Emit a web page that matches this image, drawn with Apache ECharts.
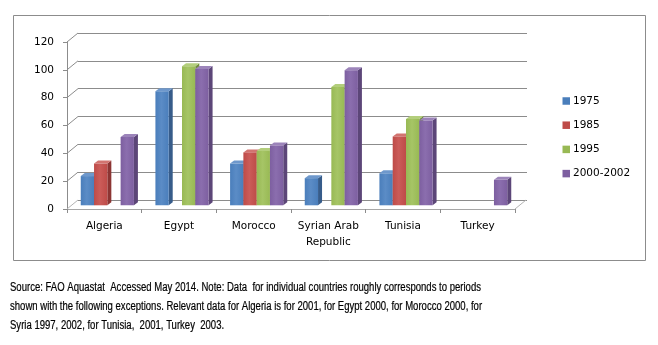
<!DOCTYPE html>
<html>
<head>
<meta charset="utf-8">
<script src="https://cdn.jsdelivr.net/npm/echarts@6/dist/echarts.min.js"></script>
<style>
  html, body { margin: 0; padding: 0; background: #fff; }
  #chart { width: 658px; height: 345px; }
</style>
</head>
<body>
<div id="chart"></div>
<script>
// Water withdrawal index by country and period
const categories = ['Algeria', 'Egypt', 'Morocco', 'Syrian Arab\nRepublic', 'Tunisia', 'Turkey'];
const seriesNames = ['1975', '1985', '1995', '2000-2002'];
const v1975 = [21, 82, 30, 19.5, 23, null];
const v1985 = [30, null, 38, null, 49.5, null];
const v1995 = [null, 100, 39, 85, 62, null];
const v2000 = [49, 98, 43, 97, 61, 18.3];
const yTicks = [0, 20, 40, 60, 80, 100, 120];

const footnote = [
  'Source: FAO Aquastat  Accessed May 2014. Note: Data  for individual countries roughly corresponds to periods',
  'shown with the following exceptions. Relevant data for Algeria is for 2001, for Egypt 2000, for Morocco 2000, for',
  'Syria 1997, 2002, for Tunisia,  2001, Turkey  2003.'
];

// Face colours: front, side (shaded), top (lit)
const palette = [
  { front: '#4A7EBB', light: '#5B8CC6', side: '#375C8A', top: '#6E98CC' },
  { front: '#BE4B48', light: '#CB5C59', side: '#8C3533', top: '#D27470' },
  { front: '#98B954', light: '#A6C566', side: '#718B3E', top: '#B3CE7C' },
  { front: '#7D5FA0', light: '#8B6EAE', side: '#5C4678', top: '#9C84BA' }
];

const FONT = '"DejaVu Sans", Verdana, sans-serif';
const WALL = { dx: 11, dy: -9 };   // offset of the back wall
const BAR = { dx: 4, dy: -3, frac: 0.178 }; // column depth and width share

const seriesValues = [v1975, v1985, v1995, v2000];

function columnRenderer(k) {
  return function (params, api) {
    const val = api.value(1);
    if (val == null || isNaN(val)) return;
    const idx = api.value(0);
    const base = api.coord([idx, 0]);
    const top = api.coord([idx, val]);
    const band = api.size([1, 0])[0];
    const bw = band * BAR.frac;
    const x0 = base[0] - 2 * bw + k * bw;
    const x1 = x0 + bw;
    const yb = base[1], yt = top[1];
    const c = palette[k];
    return {
      type: 'group',
      children: [
        { type: 'polygon', shape: { points: [[x1, yt], [x1 + BAR.dx, yt + BAR.dy], [x1 + BAR.dx, yb + BAR.dy], [x1, yb]] },
          style: { fill: c.side } },
        { type: 'polygon', shape: { points: [[x0, yt], [x0 + BAR.dx, yt + BAR.dy], [x1 + BAR.dx, yt + BAR.dy], [x1, yt]] },
          style: { fill: c.top } },
        { type: 'rect', shape: { x: x0, y: yt, width: bw, height: yb - yt },
          style: { fill: new echarts.graphic.LinearGradient(0, 0, 1, 0, [
            { offset: 0, color: c.front }, { offset: 0.45, color: c.light }, { offset: 1, color: c.front }]) } }
      ]
    };
  };
}

// Side-wall and floor edges drawn from the front value axis
function wallRenderer(params, api) {
  const cs = params.coordSys;
  const v = api.value(1);
  const y = api.coord([0, v])[1];
  const color = v === 0 ? '#b4b4b4' : '#8c8c8c';
  const children = [
    { type: 'line', shape: { x1: cs.x, y1: y, x2: cs.x + WALL.dx, y2: y + WALL.dy }, style: { stroke: color, lineWidth: 1 } }
  ];
  if (v === 0) {
    children.push({ type: 'line', shape: { x1: cs.x + cs.width, y1: y, x2: cs.x + cs.width + WALL.dx, y2: y + WALL.dy },
      style: { stroke: color, lineWidth: 1 } });
  }
  return { type: 'group', children };
}

const chart = echarts.init(document.getElementById('chart'), null, { renderer: 'canvas' });

// Fit the note text to the line width used by the caption
const measureCtx = document.createElement('canvas').getContext('2d');
const noteFont = '12px "Liberation Sans", Arial, sans-serif';
measureCtx.font = noteFont;
const noteScale = 471 / measureCtx.measureText(footnote[0]).width;

const series = [
  {
    name: 'walls', type: 'custom', xAxisIndex: 0, yAxisIndex: 0,
    data: yTicks.map(t => [0, t]), encode: { x: 0, y: 1 },
    renderItem: wallRenderer, silent: true, z: 1
  }
];
seriesNames.forEach((name, k) => {
  series.push({
    name: name, type: 'custom', xAxisIndex: 2, yAxisIndex: 2,
    itemStyle: { color: palette[k].front },
    data: seriesValues[k].map((v, i) => [i, v]),
    encode: { x: 0, y: 1 },
    renderItem: columnRenderer(k),
    z: 3
  });
});

const option = {
  animation: false,
  backgroundColor: '#ffffff',
  textStyle: { fontFamily: FONT },
  grid: [
    { left: 67, top: 42, width: 448, height: 167 },   // front plane
    { left: 78, top: 33, width: 449, height: 167 },   // back wall
    { left: 70, top: 38.3, width: 448, height: 167 }  // column depth
  ],
  xAxis: [
    {
      gridIndex: 0, type: 'category', data: categories,
      axisLine: { show: true, lineStyle: { color: '#a6a6a6' } },
      axisTick: { show: true, length: 4, lineStyle: { color: '#8c8c8c' } },
      axisLabel: { color: '#000', fontSize: 10.5, fontFamily: FONT, margin: 9, lineHeight: 16, interval: 0 }
    },
    { gridIndex: 1, type: 'category', data: categories, show: false },
    { gridIndex: 2, type: 'category', data: categories, show: false }
  ],
  yAxis: [
    {
      gridIndex: 0, type: 'value', min: 0, max: 120, interval: 20,
      axisLine: { show: true, lineStyle: { color: '#8c8c8c' } },
      axisTick: { show: true, length: 4, lineStyle: { color: '#8c8c8c' } },
      splitLine: { show: false },
      axisLabel: { color: '#000', fontSize: 10.5, fontFamily: FONT, margin: 13 }
    },
    {
      gridIndex: 1, type: 'value', min: 0, max: 120, interval: 20,
      axisLine: { show: false }, axisTick: { show: false }, axisLabel: { show: false },
      splitLine: { show: true, lineStyle: { color: '#8c8c8c', width: 1 } }
    },
    {
      gridIndex: 2, type: 'value', min: 0, max: 120, interval: 20, show: false,
      splitLine: { show: false }
    }
  ],
  legend: {
    data: seriesNames,
    orient: 'vertical',
    left: 562.5, top: 95, padding: 0,
    icon: 'rect', itemWidth: 7.5, itemHeight: 7.5, itemGap: 12.2,
    textStyle: { color: '#000', fontSize: 10.5, fontFamily: FONT, lineHeight: 12, padding: [0, 0, 0, -2] }
  },
  series: series,
  graphic: [
    { type: 'rect', shape: { x: 13.5, y: 15.5, width: 632, height: 245 },
      style: { fill: 'none', stroke: '#8c8c8c', lineWidth: 1 }, z: -1 }
  ].concat(footnote.map((line, i) => ({
    type: 'text', x: 10, y: 287.5 + i * 19, scaleX: noteScale,
    style: { text: line, font: noteFont, fill: '#000', stroke: '#000', lineWidth: 0.2, verticalAlign: 'middle' }
  })))
};

chart.setOption(option);
</script>
</body>
</html>
